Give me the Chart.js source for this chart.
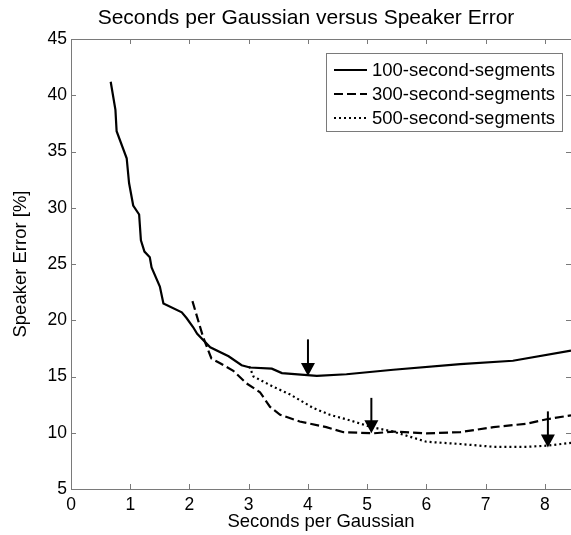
<!DOCTYPE html>
<html>
<head>
<meta charset="utf-8">
<script src="https://cdn.jsdelivr.net/npm/chart.js@4/dist/chart.umd.min.js"></script>
<style>
html,body{margin:0;padding:0;background:#fff;}
#wrap{width:571px;height:535px;}
</style>
</head>
<body>
<div id="wrap"><canvas id="c" width="571" height="535"></canvas></div>
<script>
const titleText = "Seconds per Gaussian versus Speaker Error";
const xTitle = "Seconds per Gaussian";
const yTitle = "Speaker Error [%]";
const seriesLabels = ["100-second-segments", "300-second-segments", "500-second-segments"];

const x100 = [0.67,0.75,0.77,0.94,0.98,1.05,1.15,1.18,1.24,1.33,1.36,1.50,1.56,1.87,1.95,2.06,2.13,2.35,2.66,2.88,3.02,3.39,3.56,4.15,4.65,5.44,6.57,7.46,8.44];
const y100 = [41.2,38.7,36.8,34.4,32.2,30.2,29.4,27.1,26.1,25.6,24.7,23.0,21.5,20.7,20.2,19.4,18.8,17.6,16.8,16.0,15.8,15.7,15.3,15.05,15.2,15.6,16.1,16.4,17.3];

const x300 = [2.05,2.23,2.37,2.51,2.74,2.96,3.19,3.36,3.53,3.86,4.31,4.60,5.10,5.44,6.00,6.57,7.13,7.69,8.03,8.44];
const y300 = [21.7,18.5,16.6,16.2,15.5,14.4,13.6,12.3,11.6,11.0,10.5,10.05,9.95,10.1,9.95,10.05,10.5,10.8,11.2,11.55];

const x500 = [3.01,3.08,3.41,3.70,4.09,4.37,4.71,5.07,5.44,6.00,6.57,7.13,7.69,8.03,8.44];
const y500 = [15.9,15.0,14.1,13.4,12.2,11.6,11.1,10.5,10.1,9.2,9.0,8.75,8.75,8.85,9.1];

const arrowX = [4.0, 5.07, 8.05];
const arrowFrom = [18.3, 13.1, 11.9];
const arrowTo = [15.05, 9.95, 8.7];

const xTicks = [0,1,2,3,4,5,6,7,8];
const yTicks = [5,10,15,20,25,30,35,40,45];

const FONT = '"Liberation Sans", Arial, Helvetica, sans-serif';
const AXIS_COLOR = '#7a7a7a';

function pts(xs, ys){ return xs.map((x,i)=>({x:x, y:ys[i]})); }

const dashes = [[], [9,4], [2,3]];

const decor = {
  id: 'decor',
  afterDatasetsDraw(chart){
    const ctx = chart.ctx;
    const xs = chart.scales.x, ys = chart.scales.y;
    const a = chart.chartArea;
    ctx.save();
    // arrows
    ctx.fillStyle = '#000'; ctx.strokeStyle = '#000';
    for (let i=0;i<arrowX.length;i++){
      const px = xs.getPixelForValue(arrowX[i]);
      const py0 = ys.getPixelForValue(arrowFrom[i]);
      const py1 = ys.getPixelForValue(arrowTo[i]);
      const hl = 13, hw = 7;
      ctx.lineWidth = 2;
      ctx.beginPath(); ctx.moveTo(px, py0); ctx.lineTo(px, py1 - hl + 1); ctx.stroke();
      ctx.beginPath(); ctx.moveTo(px - hw, py1 - hl); ctx.lineTo(px + hw, py1 - hl); ctx.lineTo(px, py1); ctx.closePath(); ctx.fill();
    }
    // axes box
    ctx.strokeStyle = AXIS_COLOR; ctx.lineWidth = 1;
    ctx.beginPath();
    ctx.moveTo(Math.round(a.left)+0.5, Math.round(a.top)+0.5);
    ctx.lineTo(Math.round(a.left)+0.5, Math.round(a.bottom)+0.5);
    ctx.lineTo(Math.round(a.right)+0.5, Math.round(a.bottom)+0.5);
    ctx.lineTo(Math.round(a.right)+0.5, Math.round(a.top)+0.5);
    ctx.closePath();
    ctx.stroke();
    // inner ticks
    const tl = 5;
    ctx.beginPath();
    xTicks.forEach(v=>{
      const p = Math.round(xs.getPixelForValue(v))+0.5;
      ctx.moveTo(p, a.bottom); ctx.lineTo(p, a.bottom - tl);
      ctx.moveTo(p, a.top); ctx.lineTo(p, a.top + tl);
    });
    yTicks.forEach(v=>{
      const p = Math.round(ys.getPixelForValue(v))+0.5;
      ctx.moveTo(a.left, p); ctx.lineTo(a.left + tl, p);
      ctx.moveTo(a.right, p); ctx.lineTo(a.right - tl, p);
    });
    ctx.stroke();
    // legend
    const bx = 326.5, by = 53.5, bw = 236, bh = 78;
    ctx.fillStyle = '#fff';
    ctx.fillRect(bx, by, bw, bh);
    ctx.strokeStyle = AXIS_COLOR; ctx.lineWidth = 1;
    ctx.strokeRect(bx, by, bw, bh);
    ctx.font = '18.5px ' + FONT;
    ctx.textBaseline = 'middle'; ctx.textAlign = 'left';
    chart.data.datasets.forEach((ds, i) => {
      const ry = 70 + i*24;
      ctx.strokeStyle = '#000'; ctx.lineWidth = ds.borderWidth;
      ctx.setLineDash(dashes[i]);
      ctx.beginPath(); ctx.moveTo(334, ry); ctx.lineTo(367, ry); ctx.stroke();
      ctx.setLineDash([]);
      ctx.fillStyle = '#000';
      ctx.fillText(ds.label, 372, ry + 1);
    });
    // title
    ctx.font = '21px ' + FONT;
    ctx.textAlign = 'center'; ctx.textBaseline = 'middle';
    ctx.fillStyle = '#000';
    ctx.fillText(titleText, 306, 18);
    ctx.restore();
  }
};

new Chart(document.getElementById('c'), {
  type: 'line',
  data: {
    datasets: [
      {label: seriesLabels[0], data: pts(x100, y100), borderColor:'#000', borderWidth:2.2, borderDash: dashes[0], pointRadius:0, tension:0, fill:false},
      {label: seriesLabels[1], data: pts(x300, y300), borderColor:'#000', borderWidth:2.2, borderDash: dashes[1], pointRadius:0, tension:0, fill:false},
      {label: seriesLabels[2], data: pts(x500, y500), borderColor:'#000', borderWidth:2.2, borderDash: dashes[2], pointRadius:0, tension:0, fill:false}
    ]
  },
  options: {
    responsive: false,
    animation: false,
    devicePixelRatio: 1,
    layout: {padding: {top: 39, right: 0, left: 0, bottom: 0}},
    plugins: {legend: {display:false}, tooltip:{enabled:false}, title:{display:false}},
    scales: {
      x: {
        type: 'linear', min: 0, max: 8.44,
        afterFit(s){ s.height = 46; },
        afterBuildTicks(s){ s.ticks = xTicks.map(v=>({value:v})); },
        grid: {display:false, drawTicks:false},
        border: {display:false},
        ticks: {color:'#000', font:{family:FONT, size:17.5}, padding:6, maxRotation:0, autoSkip:false},
        title: {display:true, text:xTitle, color:'#000', font:{family:FONT, size:18.5, lineHeight:1.2}, padding:{top:0,bottom:2}}
      },
      y: {
        type: 'linear', min: 5, max: 45,
        afterFit(s){ s.width = 71; },
        afterBuildTicks(s){ s.ticks = yTicks.map(v=>({value:v})); },
        grid: {display:false, drawTicks:false},
        border: {display:false},
        ticks: {color:'#000', font:{family:FONT, size:17.5}, padding:4, autoSkip:false},
        title: {display:true, text:yTitle, color:'#000', font:{family:FONT, size:18.5, lineHeight:1.2}, padding:{top:10,bottom:0}}
      }
    }
  },
  plugins: [decor]
});
</script>
</body>
</html>
